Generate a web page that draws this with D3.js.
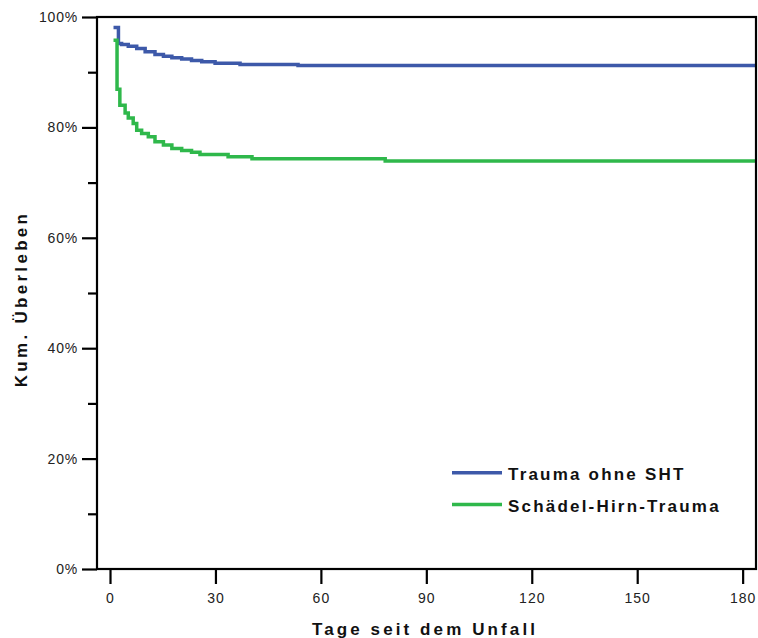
<!DOCTYPE html>
<html>
<head>
<meta charset="utf-8">
<script src="https://cdn.jsdelivr.net/npm/d3@7"></script>
<style>
  html, body { margin: 0; padding: 0; background: #fff; }
  svg { display: block; font-family: "Liberation Sans", Arial, sans-serif; }
</style>
</head>
<body>
<svg id="chart" width="758" height="638"></svg>
<script>
// Kaplan-Meier survival estimates (days since accident, cumulative survival in %)
const seriesNames = ["Trauma ohne SHT", "Schädel-Hirn-Trauma"];
const seriesColors = ["#3d59a9", "#2fb84b"];

const blueDays = [1, 2.4, 3.3, 5.2, 7.6, 10, 12.8, 15.2, 17.6, 20.4, 23.2, 26.1, 29.9, 37, 53.5];
const blueSurv = [98.1, 95.2, 95.0, 94.7, 94.3, 93.7, 93.2, 92.9, 92.6, 92.4, 92.1, 91.9, 91.6, 91.4, 91.2];

const greenDays = [1, 2.0, 2.8, 4.3, 5.2, 6.6, 7.6, 9.0, 10.9, 12.8, 15.2, 17.6, 20.4, 23.2, 25.6, 33.6, 40.4, 78.3];
const greenSurv = [95.8, 86.9, 84.0, 82.6, 81.7, 80.7, 79.5, 78.9, 78.3, 77.4, 76.8, 76.2, 75.8, 75.5, 75.1, 74.7, 74.3, 73.9];

const xTicks = [0, 30, 60, 90, 120, 150, 180];
const yMajorTicks = [0, 20, 40, 60, 80, 100];
const yMinorTicks = [10, 30, 50, 70, 90];

const xTitle = "Tage seit dem Unfall";
const yTitle = "Kum. Überleben";

(function () {
  const svg = d3.select("#chart");
  const pl = 97, pr = 756, pt = 17, pb = 569;
  const xMax = 183.8;

  const x = d3.scaleLinear().domain([-3.7, xMax]).range([pl, pr]);
  const y = d3.scaleLinear().domain([0, 100]).range([pb, pt]);

  // clip for curves
  svg.append("defs").append("clipPath").attr("id", "plotClip")
    .append("rect").attr("x", pl).attr("y", pt - 5)
    .attr("width", pr - pl).attr("height", pb - pt + 5);

  // survival step curves
  const line = d3.line()
    .x(d => x(d[0]))
    .y(d => y(d[1]))
    .curve(d3.curveStepAfter);

  const series = [
    { days: blueDays, surv: blueSurv },
    { days: greenDays, surv: greenSurv }
  ];

  const curves = svg.append("g").attr("clip-path", "url(#plotClip)");
  series.forEach((s, i) => {
    const pts = s.days.map((d, k) => [d, s.surv[k]]);
    pts.push([xMax + 2, s.surv[s.surv.length - 1]]);
    curves.append("path")
      .datum(pts)
      .attr("fill", "none")
      .attr("stroke", seriesColors[i])
      .attr("stroke-width", 3.5)
      .attr("d", line);
  });

  // frame
  svg.append("rect")
    .attr("x", pl).attr("y", pt)
    .attr("width", pr - pl).attr("height", pb - pt)
    .attr("fill", "none").attr("stroke", "#000").attr("stroke-width", 2.2);

  const tickFont = "'Liberation Sans', Arial, sans-serif";

  // y axis (major ticks with labels)
  const yAxis = svg.append("g")
    .attr("transform", `translate(${pl},0)`)
    .call(d3.axisLeft(y).tickValues(yMajorTicks).tickSize(15).tickPadding(4)
      .tickFormat(d => d + "%"));
  yAxis.select(".domain").remove();
  yAxis.selectAll(".tick line").attr("stroke", "#000").attr("stroke-width", 2.2);
  yAxis.selectAll(".tick text").attr("font-size", 14).attr("fill", "#222")
    .attr("letter-spacing", 0.8).attr("font-family", tickFont);

  // y axis minor ticks
  const yMinor = svg.append("g")
    .attr("transform", `translate(${pl},0)`)
    .call(d3.axisLeft(y).tickValues(yMinorTicks).tickSize(9).tickFormat(""));
  yMinor.select(".domain").remove();
  yMinor.selectAll(".tick line").attr("stroke", "#000").attr("stroke-width", 2.2);

  // x axis
  const xAxis = svg.append("g")
    .attr("transform", `translate(0,${pb + 1})`)
    .call(d3.axisBottom(x).tickValues(xTicks).tickSize(14).tickPadding(9));
  xAxis.select(".domain").remove();
  xAxis.selectAll(".tick line").attr("stroke", "#000").attr("stroke-width", 2.2);
  xAxis.selectAll(".tick text").attr("font-size", 14).attr("fill", "#222")
    .attr("letter-spacing", 1).attr("font-family", tickFont);

  // axis titles
  svg.append("text")
    .attr("x", 425)
    .attr("y", 635)
    .attr("text-anchor", "middle")
    .attr("font-size", 17).attr("font-weight", "bold")
    .attr("letter-spacing", 3.1)
    .attr("fill", "#111")
    .text(xTitle);

  svg.append("text")
    .attr("transform", "translate(27,299) rotate(-90)")
    .attr("text-anchor", "middle")
    .attr("font-size", 17).attr("font-weight", "bold")
    .attr("letter-spacing", 3.3)
    .attr("fill", "#111")
    .text(yTitle);

  // legend
  const legend = svg.append("g");
  seriesNames.forEach((name, i) => {
    const ly = 472.7 + i * 31.7;
    legend.append("line")
      .attr("x1", 452).attr("x2", 502)
      .attr("y1", ly).attr("y2", ly)
      .attr("stroke", seriesColors[i]).attr("stroke-width", 3.5);
    legend.append("text")
      .attr("x", 508).attr("y", ly + 7.5)
      .attr("font-size", 17).attr("font-weight", "bold")
      .attr("letter-spacing", 2.2)
      .attr("fill", "#111")
      .text(name);
  });
})();
</script>
</body>
</html>
